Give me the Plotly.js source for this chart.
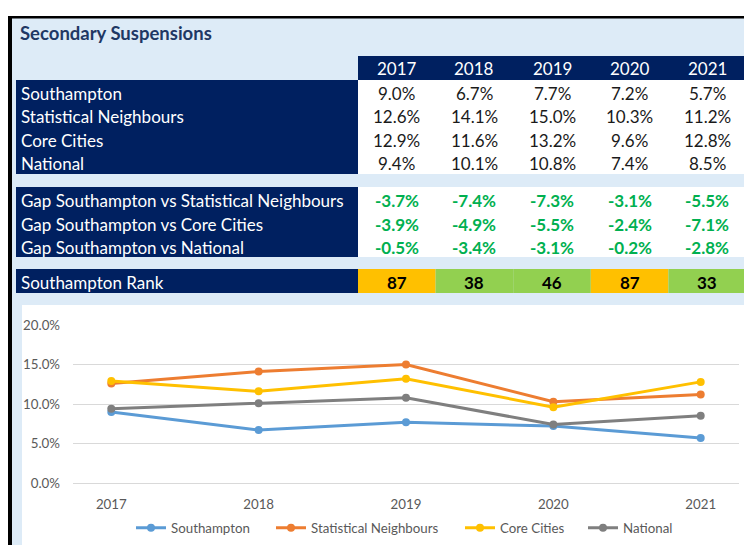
<!DOCTYPE html>
<html><head><meta charset="utf-8">
<script src="https://cdn.plot.ly/plotly-3.0.1.min.js"></script>
<style>html,body{margin:0;padding:0;background:#fff;}#chart{width:744px;height:545px;}</style>
</head><body><div id="chart"></div>
<script>
// ---- data ----
const chartTitle = 'Secondary Suspensions';
const years = ['2017', '2018', '2019', '2020', '2021'];
const seriesNames = ['Southampton', 'Statistical Neighbours', 'Core Cities', 'National'];
const southampton = [0.090, 0.067, 0.077, 0.072, 0.057];
const statNeighbours = [0.126, 0.141, 0.150, 0.103, 0.112];
const coreCities = [0.129, 0.116, 0.132, 0.096, 0.128];
const national = [0.094, 0.101, 0.108, 0.074, 0.085];
const gapLabels = ['Gap Southampton vs Statistical Neighbours', 'Gap Southampton vs Core Cities', 'Gap Southampton vs National'];
const gapStatNeighbours = [-0.037, -0.074, -0.073, -0.031, -0.055];
const gapCoreCities = [-0.039, -0.049, -0.055, -0.024, -0.071];
const gapNational = [-0.005, -0.034, -0.031, -0.002, -0.028];
const rankLabel = 'Southampton Rank';
const ranks = [87, 38, 46, 87, 33];
const rankBands = ['amber', 'green', 'green', 'amber', 'green'];

// ---- styling / geometry ----
const FONT = 'Lato, "Liberation Sans", sans-serif';
const NAVY = '#002060', LIGHT = '#DDEBF7', GREENTXT = '#00B050';
const bandColours = {amber: '#FFC000', green: '#92D050'};
const lineColours = ['#5B9BD5', '#ED7D31', '#FFC000', '#7F7F7F'];
const legendStarts = [136, 276, 465, 588];
const W = 744, H = 545, L = 73, R = 5, T = 325, B = 62;
const PW = W - L - R, PH = H - T - B;
const px = x => (x - L) / PW;
const py = y => (H - B - y) / PH;
function rect(x0, y0, x1, y1, color) {
  return {type: 'rect', xref: 'paper', yref: 'paper', x0: px(x0), x1: px(x1), y0: py(y1), y1: py(y0),
          fillcolor: color, line: {width: 0}, layer: 'below'};
}
function txt(x, y, text, opts) {
  opts = opts || {};
  return {xref: 'paper', yref: 'paper', x: px(x), y: py(y), text: text, showarrow: false,
          xanchor: opts.xanchor || 'center', yanchor: 'middle',
          font: {family: FONT, size: opts.size || 17, color: opts.color || '#1a1a1a', weight: opts.weight || 'normal'}};
}
const pct = v => (v * 100).toFixed(1) + '%';

const colStart = 358, colW = 77.6;
const colCentre = i => colStart + colW * (i + 0.5);

const shapes = [
  rect(12, 18, 744, 545, LIGHT),
  rect(8, 16, 744, 18.5, '#000000'),
  rect(8, 16, 12, 545, '#000000'),
  rect(358, 56, 744, 80, NAVY),
  rect(16, 80, 358, 174, NAVY),
  rect(358, 80, 744, 174, '#FFFFFF'),
  rect(16, 187, 358, 257, NAVY),
  rect(358, 187, 744, 257, '#FFFFFF'),
  rect(16, 269, 358, 293, NAVY),
  rect(22, 305, 744, 545, '#FFFFFF')
];
ranks.forEach((r, i) => {
  shapes.push(rect(colStart + colW * i, 269, colStart + colW * (i + 1), 293, bandColours[rankBands[i]]));
});

const annotations = [];
annotations.push(txt(18, 33, '<b>' + chartTitle + '</b>', {xanchor: 'left', color: '#1F3864', size: 18.5}));
years.forEach((y, i) => annotations.push(txt(colCentre(i), 69, y, {color: '#FFFFFF'})));
const mainSeries = [southampton, statNeighbours, coreCities, national];
const mainRowY = [93, 116.6, 140.2, 163.8];
seriesNames.forEach((n, r) => {
  annotations.push(txt(19, mainRowY[r], n, {xanchor: 'left', color: '#FFFFFF'}));
  mainSeries[r].forEach((v, i) => annotations.push(txt(colCentre(i), mainRowY[r], pct(v))));
});
const gapSeries = [gapStatNeighbours, gapCoreCities, gapNational];
const gapRowY = [200.5, 224, 247.5];
gapLabels.forEach((n, r) => {
  annotations.push(txt(19, gapRowY[r], n, {xanchor: 'left', color: '#FFFFFF'}));
  gapSeries[r].forEach((v, i) => annotations.push(txt(colCentre(i), gapRowY[r], '<b>' + pct(v) + '</b>', {color: GREENTXT})));
});
annotations.push(txt(19, 282, rankLabel, {xanchor: 'left', color: '#FFFFFF'}));
ranks.forEach((r, i) => annotations.push(txt(colCentre(i), 282, '<b>' + r + '</b>', {color: '#000000'})));

const legendKeys = ['legend', 'legend2', 'legend3', 'legend4'];
const traces = mainSeries.map((s, k) => ({
  type: 'scatter', mode: 'lines+markers', name: seriesNames[k], x: years, y: s,
  legend: legendKeys[k],
  line: {color: lineColours[k], width: 3}, marker: {color: lineColours[k], size: 8}
}));

const layout = {
  width: W, height: H,
  margin: {l: L, r: R, t: T, b: B, pad: 0, autoexpand: false},
  paper_bgcolor: '#FFFFFF', plot_bgcolor: '#FFFFFF',
  font: {family: FONT, color: '#595959', size: 13.3},
  showlegend: true,
  xaxis: {type: 'category', showgrid: false, zeroline: false, showline: false, ticks: '',
          ticklabelstandoff: 12, tickfont: {family: FONT, size: 13.3, color: '#595959'}, fixedrange: true},
  yaxis: {range: [0, 0.2], dtick: 0.05, tickformat: '.1%', gridcolor: '#D9D9D9', gridwidth: 1,
          zeroline: true, zerolinecolor: '#D9D9D9', zerolinewidth: 1, showline: false, ticks: '',
          ticklabelstandoff: 12, tickfont: {family: FONT, size: 13.3, color: '#595959'}, fixedrange: true},
  shapes: shapes,
  annotations: annotations,
  hovermode: false
};
legendKeys.forEach((key, k) => {
  layout[key] = {orientation: 'h', x: px(legendStarts[k] - 5), xanchor: 'left', y: py(528), yanchor: 'middle',
                 font: {family: FONT, size: 13.3, color: '#595959'}, bgcolor: 'rgba(0,0,0,0)',
                 itemwidth: 30, borderwidth: 0};
});
Plotly.newPlot('chart', traces, layout, {staticPlot: true, displayModeBar: false});
</script></body></html>
